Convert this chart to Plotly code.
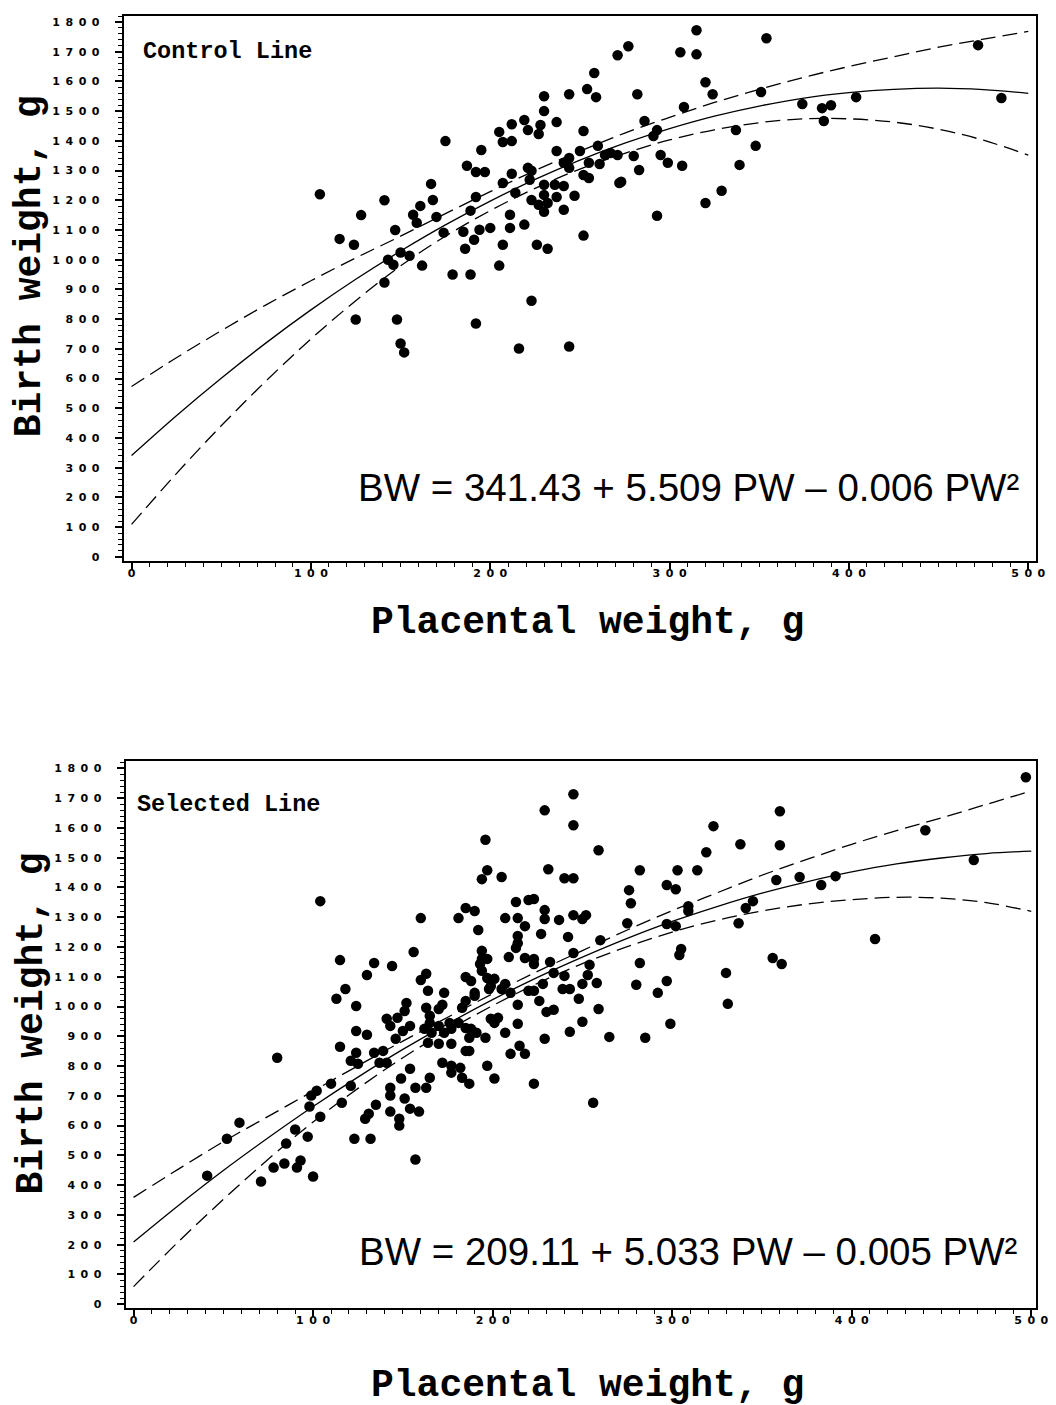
import plotly.graph_objects as go

# ---------------- data: Control Line (top) ----------------
ctrl_pw = [105,116,124,128,141,147,143,146,141,150,155,125,148,162,157,159,161,168,167,170,
           175,174,179,185,189,186,187,192,197,195,189,192,194,200,191,192,205,207,212,212,
           219,221,228,227,207,211,211,212,214,221,223,222,219,223,227,207,205,226,232,223,
           150,152,216,244,230,230,237,244,254,259,258,271,277,315,354,306,315,320,324,282,
           308,351,286,252,237,250,244,244,260,264,267,271,273,255,230,236,241,230,237,247,
           232,230,241,293,291,337,348,374,385,390,386,404,472,485,280,295,299,307,283,339,
           272,329,320,293,252,241,255,261,252]
ctrl_bw = [1220,1070,1050,1150,1200,1100,1000,983,923,1024,1013,799,799,980,1151,1124,1181,1201,1255,1144,
           1399,1091,950,1094,950,1037,1316,1295,1295,1369,1165,1211,1101,1107,1067,785,1430,1396,1399,1456,
           1470,1436,1453,1423,1258,1151,1107,1289,1225,1309,1299,1269,1118,1201,1185,1050,980,1050,1037,862,
           718,688,701,708,1550,1500,1463,1557,1574,1547,1628,1688,1718,1772,1745,1698,1691,1597,1557,1557,
           1514,1564,1467,1433,1366,1366,1342,1309,1383,1352,1359,1352,1262,1275,1252,1252,1248,1218,1211,1215,
           1191,1161,1168,1436,1416,1436,1383,1524,1510,1520,1467,1547,1722,1544,1349,1352,1326,1316,1302,1319,
           1258,1232,1191,1148,1081,1326,1326,1322,1285]

# ---------------- data: Selected Line (bottom) ----------------
sel_pw = [196,197,194,205,104,160,181,185,190,213,220,207,214,218,192,214,214,213,194,194,
          193,197,209,218,156,115,134,144,130,163,160,185,188,194,197,201,207,118,113,124,
          164,173,152,151,185,183,190,190,198,199,205,210,220,214,141,147,154,143,150,163,
          165,170,172,165,170,176,162,166,173,177,181,185,188,191,196,199,203,201,207,214,
          124,130,146,164,170,177,187,115,124,134,139,121,125,137,141,172,177,182,185,187,
          197,210,215,218,154,149,165,177,183,187,201,157,163,143,143,151,110,121,102,99,
          80,
          41,52,59,71,78,84,85,90,91,93,100,97,98,104,116,123,132,129,131,135,143,148,148,154,159,157,
          497,245,229,245,360,323,338,360,319,259,441,468,231,240,245,282,303,314,358,371,
          391,383,297,302,276,277,229,229,237,245,252,250,223,227,242,275,297,302,309,309,
          337,341,345,260,245,413,305,304,356,361,223,223,232,234,240,254,253,258,250,243,
          239,228,223,282,280,297,292,330,226,248,230,234,259,250,243,229,265,285,299,331,
          256,223]
sel_bw = [1560,1458,1428,1435,1354,1297,1297,1331,1321,1351,1358,1297,1297,1270,1257,1237,1213,1197,1187,1160,
          1143,1160,1166,1163,1183,1156,1146,1136,1106,1110,1089,1099,1086,1120,1096,1093,1076,1059,1026,1002,
          1053,1046,1012,985,1019,996,1046,1036,1059,1069,1059,1046,1053,1006,959,962,935,935,918,996,
          969,992,1006,945,935,945,925,912,912,925,945,928,925,912,895,959,962,945,912,942,
          918,905,892,878,875,875,895,865,845,845,851,818,808,811,811,811,801,794,851,851,
          801,841,868,841,791,758,761,778,761,741,758,727,727,727,701,691,741,734,717,701,
          828,
          432,556,610,412,459,473,540,587,459,483,429,563,664,630,677,556,556,623,640,670,647,623,600,657,647,486,
          1770,1713,1659,1609,1656,1606,1545,1542,1518,1525,1592,1492,1461,1431,1431,1458,1458,1458,1425,1435,
          1438,1408,1408,1394,1391,1347,1324,1294,1291,1307,1307,1294,1361,1244,1234,1280,1277,1270,1337,1321,
          1280,1331,1354,1223,1180,1227,1193,1173,1163,1143,1160,1143,1150,1113,1103,1140,1106,1079,1076,1059,
          1059,1076,1053,1146,1073,1086,1046,1113,1019,1026,982,989,992,949,915,892,898,895,942,1009,
          677,741]

# ---------------- fitted curves and confidence limits ----------------
curve_pw = [0,25,50,75,100,125,150,175,200,225,250,275,300,325,350,375,400,425,450,475,500]
ctrl_fit = [341,475,601,720,831,934,1029,1117,1197,1270,1335,1392,1441,1483,1517,1544,1562,1573,1577,1572,1560]
ctrl_upper = [573,670,761,848,929,1006,1079,1155,1229,1300,1365,1426,1479,1529,1573,1614,1650,1683,1715,1742,1768]
ctrl_lower = [109,280,441,592,733,862,979,1079,1165,1240,1305,1358,1403,1437,1461,1474,1474,1463,1439,1402,1352]
sel_fit = [209,332,449,559,664,763,856,942,1023,1098,1166,1229,1286,1336,1381,1419,1452,1479,1499,1514,1522]
sel_upper = [359,454,546,631,716,801,884,964,1043,1118,1188,1257,1322,1382,1441,1494,1545,1591,1634,1679,1724]
sel_lower = [59,210,352,487,612,725,828,920,1003,1078,1144,1201,1250,1290,1321,1344,1359,1367,1364,1349,1320]

y_ticks = list(range(0, 1801, 100))
x_ticks = list(range(0, 501, 100))
panel_labels = ["Control Line", "Selected Line"]
equations = ["BW = 341.43 + 5.509 PW \u2013 0.006 PW\u00b2",
             "BW = 209.11 + 5.033 PW \u2013 0.005 PW\u00b2"]
x_title = "Placental weight, g"
y_title = "Birth weight, g"

W, H = 1056, 1405

def spaced(v):
    return "\u2002".join(str(v))

fig = go.Figure()

panels = [
    (ctrl_pw, ctrl_bw, ctrl_fit, ctrl_upper, ctrl_lower, "x", "y"),
    (sel_pw, sel_bw, sel_fit, sel_upper, sel_lower, "x2", "y2"),
]
for pw, bw, fit, up, lo, xa, ya in panels:
    fig.add_trace(go.Scatter(x=pw, y=bw, mode="markers", xaxis=xa, yaxis=ya,
                             marker=dict(color="black", size=10.5, symbol="circle", line=dict(width=0)),
                             showlegend=False, hoverinfo="skip"))
    fig.add_trace(go.Scatter(x=curve_pw, y=fit, mode="lines", xaxis=xa, yaxis=ya,
                             line=dict(color="black", width=1.3, shape="spline"),
                             showlegend=False, hoverinfo="skip"))
    for band in (up, lo):
        fig.add_trace(go.Scatter(x=curve_pw, y=band, mode="lines", xaxis=xa, yaxis=ya,
                                 line=dict(color="black", width=1.3, dash="15px,7px", shape="spline"),
                                 showlegend=False, hoverinfo="skip"))

tickfont = dict(family="DejaVu Sans", size=11, color="black", weight="bold")

def xaxis_style(domain, rng, anchor):
    return dict(domain=domain, range=rng, anchor=anchor, showgrid=False, zeroline=False,
                showline=True, linecolor="black", linewidth=2, mirror=True,
                ticks="outside", ticklen=7, tickwidth=1.5, tickcolor="black",
                tickvals=x_ticks, ticktext=[spaced(v) for v in x_ticks],
                tickfont=tickfont, ticklabelstandoff=-6,
                minor=dict(dtick=10, tick0=0, ticks="outside", ticklen=4, tickwidth=1, tickcolor="black"))

def yaxis_style(domain, rng, anchor):
    return dict(domain=domain, range=rng, anchor=anchor, showgrid=False, zeroline=False,
                showline=True, linecolor="black", linewidth=2, mirror=True,
                ticks="outside", ticklen=7, tickwidth=1.5, tickcolor="black",
                tickvals=y_ticks, ticktext=[spaced(v) for v in y_ticks],
                tickfont=tickfont, ticklabelstandoff=13,
                minor=dict(dtick=20, tick0=0, ticks="outside", ticklen=4, tickwidth=1, tickcolor="black"))

fig.update_layout(
    width=W, height=H, margin=dict(l=0, r=0, t=0, b=0),
    paper_bgcolor="white", plot_bgcolor="white",
    xaxis=xaxis_style([117/W, 1040/W], [-4.4, 504.4], "y"),
    yaxis=yaxis_style([1-554/H, 1-8/H], [-13.4, 1820.1], "x"),
    xaxis2=xaxis_style([119/W, 1040/W], [-4.4, 502.75], "y2"),
    yaxis2=yaxis_style([1-1303/H, 1-755/H], [-13.4, 1823.5], "x2"),
)

mono = "Liberation Mono"
ann = []
# panel labels
ann.append(dict(text=panel_labels[0], x=135/W, y=1-44/H, xanchor="left", yanchor="middle",
                font=dict(family=mono, size=23.5, color="black", weight="bold")))
ann.append(dict(text=panel_labels[1], x=128/W, y=1-798/H, xanchor="left", yanchor="middle",
                font=dict(family=mono, size=23.5, color="black", weight="bold")))
# equations
ann.append(dict(text=equations[0], x=352/W, y=1-481/H, xanchor="left", yanchor="middle",
                font=dict(family="Liberation Sans", size=38.5, color="black")))
ann.append(dict(text=equations[1], x=353/W, y=1-1246/H, xanchor="left", yanchor="middle",
                font=dict(family="Liberation Sans", size=38.5, color="black")))
# axis titles
ann.append(dict(text=x_title, x=586/W, y=1-616/H, xanchor="center", yanchor="middle",
                font=dict(family=mono, size=38, color="black", weight="bold")))
ann.append(dict(text=x_title, x=586/W, y=1-1380/H, xanchor="center", yanchor="middle",
                font=dict(family=mono, size=38, color="black", weight="bold")))
ann.append(dict(text=y_title, x=22/W, y=1-259/H, xanchor="center", yanchor="middle", textangle=-90,
                font=dict(family=mono, size=38, color="black", weight="bold")))
ann.append(dict(text=y_title, x=24/W, y=1-1018/H, xanchor="center", yanchor="middle", textangle=-90,
                font=dict(family=mono, size=38, color="black", weight="bold")))
for a in ann:
    a.update(xref="paper", yref="paper", showarrow=False)
fig.update_layout(annotations=ann)

fig.write_html("out.html")
